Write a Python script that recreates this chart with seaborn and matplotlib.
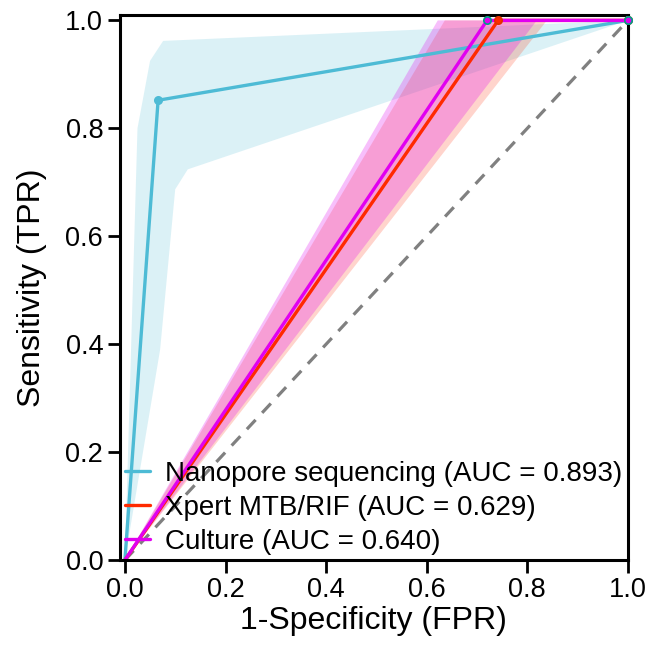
import numpy as np
import pandas as pd
import matplotlib
matplotlib.use("Agg")
import matplotlib.pyplot as plt
import seaborn as sns

# ── ROC points for each test ──────────────────────────────────
nano_fpr = [0.0, 0.066, 1.0]
nano_tpr = [0.0, 0.852, 1.0]
xpert_fpr = [0.0, 0.742, 1.0]
xpert_tpr = [0.0, 1.0, 1.0]
cult_fpr = [0.0, 0.72, 1.0]
cult_tpr = [0.0, 1.0, 1.0]

labels = ["Nanopore sequencing (AUC = 0.893)",
          "Xpert MTB/RIF (AUC = 0.629)",
          "Culture (AUC = 0.640)"]

# ── confidence bands (upper / lower edges) ────────────────────
nano_up_fpr = [0.0, 0.025, 0.05, 0.076, 1.0]
nano_up_tpr = [0.0, 0.80, 0.925, 0.962, 1.0]
nano_lo_fpr = [0.0, 0.07, 0.10, 0.125, 1.0]
nano_lo_tpr = [0.0, 0.39, 0.687, 0.724, 1.0]

xpert_up_fpr = [0.0, 0.636, 1.0]
xpert_up_tpr = [0.0, 1.0, 1.0]
xpert_lo_fpr = [0.0, 0.839, 1.0]
xpert_lo_tpr = [0.0, 1.0, 1.0]

cult_up_fpr = [0.0, 0.622, 1.0]
cult_up_tpr = [0.0, 1.0, 1.0]
cult_lo_fpr = [0.0, 0.819, 1.0]
cult_lo_tpr = [0.0, 1.0, 1.0]

c_nano, c_xpert, c_cult = "#4DBBD5", "#FF2A00", "#E100F0"

sns.set_style("ticks")
plt.rcParams["font.family"] = ["Liberation Sans", "DejaVu Sans"]
plt.rcParams["text.color"] = "black"
plt.rcParams["axes.labelcolor"] = "black"
plt.rcParams["xtick.color"] = "black"
plt.rcParams["ytick.color"] = "black"

fig = plt.figure(figsize=(6.48, 6.52), dpi=100)
ax = fig.add_axes([0.185, 0.141, 0.784, 0.836])


def band(up_x, up_y, lo_x, lo_y, color, alpha):
    xs = list(up_x) + list(lo_x)[::-1]
    ys = list(up_y) + list(lo_y)[::-1]
    ax.fill(xs, ys, color=color, alpha=alpha, lw=0)


band(nano_up_fpr, nano_up_tpr, nano_lo_fpr, nano_lo_tpr, c_nano, 0.2)
band(xpert_up_fpr, xpert_up_tpr, xpert_lo_fpr, xpert_lo_tpr, c_xpert, 0.2)
band(cult_up_fpr, cult_up_tpr, cult_lo_fpr, cult_lo_tpr, c_cult, 0.25)

ax.plot([0, 1], [0, 1], ls=(0, (4, 3)), color="gray", lw=2.3)

series = [(nano_fpr, nano_tpr, c_nano, labels[0], c_nano),
          (xpert_fpr, xpert_tpr, c_xpert, labels[1], "#E03000"),
          (cult_fpr, cult_tpr, c_cult, labels[2], "#00A087")]

for fpr, tpr, col, lab, edge in series:
    d = pd.DataFrame({"fpr": fpr, "tpr": tpr})
    sns.lineplot(data=d, x="fpr", y="tpr", color=col, lw=2.4, label=lab,
                 sort=False, estimator=None, ax=ax)
    sns.scatterplot(data=d.iloc[1:], x="fpr", y="tpr", color=col, edgecolor=edge,
                    linewidth=1.2, s=28, legend=False, ax=ax, zorder=4,
                    clip_on=False)

ax.set_xlim(-0.01, 1.0)
ax.set_ylim(0.0, 1.01)
ax.set_xticks(np.arange(0, 1.01, 0.2))
ax.set_yticks(np.arange(0, 1.01, 0.2))
ax.set_xlabel("1-Specificity (FPR)", fontsize=23, labelpad=2)
ax.set_ylabel("Sensitivity (TPR)", fontsize=23, labelpad=13)
ax.tick_params(labelsize=19.5, width=2, length=9, pad=3)
for sp in ax.spines.values():
    sp.set_linewidth(2.2)
    sp.set_color("black")

ax.legend(loc="lower right", frameon=False, fontsize=20,
          handlelength=0.9, handletextpad=0.55, labelspacing=0.28,
          borderaxespad=0.1, borderpad=0.1)

fig.savefig("out.png", dpi=100)
